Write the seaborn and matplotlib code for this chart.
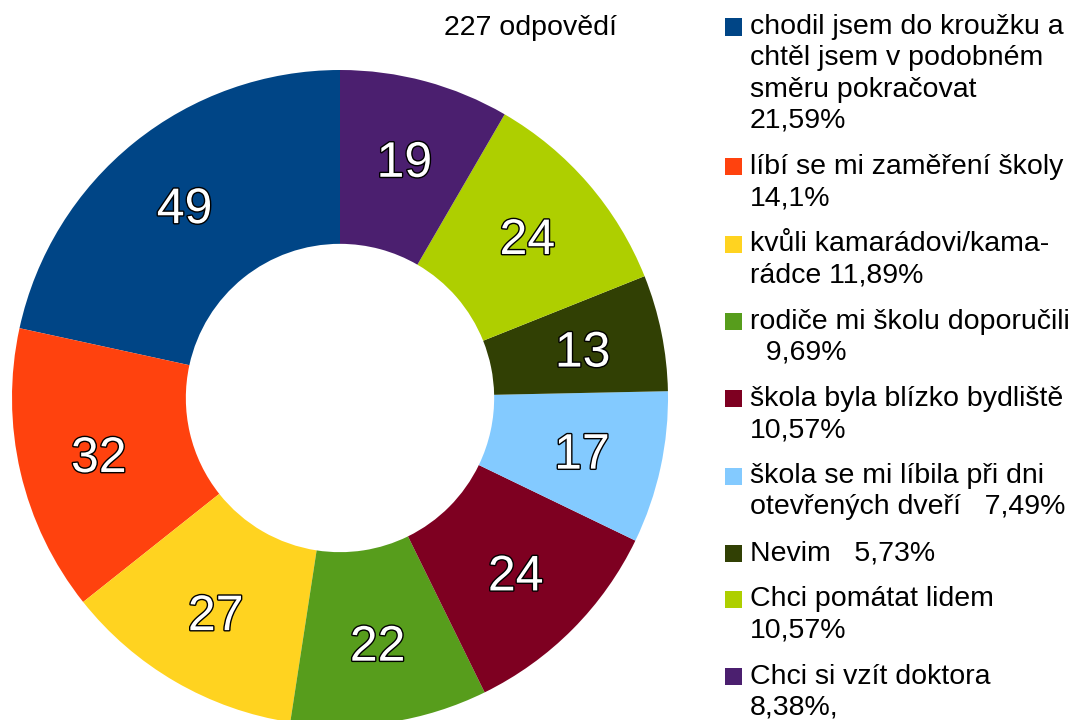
import seaborn as sns
import matplotlib
matplotlib.use("Agg")
from matplotlib import pyplot as plt
from matplotlib import patheffects as pe
from matplotlib.patches import Rectangle

''' Data '''

counts = [49, 32, 27, 22, 24, 17, 13, 24, 19]
colors = ["#004586", "#ff420e", "#ffd320", "#579d1c", "#7e0021",
          "#83caff", "#314004", "#aecf00", "#4b1f6f"]
legend_labels = [
    "chodil jsem do kroužku a\nchtěl jsem v podobném\nsměru pokračovat\n21,59%",
    "líbí se mi zaměření školy\n14,1%",
    "kvůli kamarádovi/kama-\nrádce 11,89%",
    "rodiče mi školu doporučili\n  9,69%",
    "škola byla blízko bydliště\n10,57%",
    "škola se mi líbila při dni\notevřených dveří   7,49%",
    "Nevim   5,73%",
    "Chci pomátat lidem\n10,57%",
    "Chci si vzít doktora\n8,38%,",
]
title = "227 odpovědí"

''' Style '''

sns.set_style("white")
plt.rcParams['font.family'] = ['Liberation Sans', 'DejaVu Sans']

W, H = 1072, 720
fig = plt.figure(figsize = (W / 100, H / 100), dpi = 100)

def fx(px) : return px / W
def fy(py) : return 1 - py / H

''' Donut '''

cx, cy, r = 340, 398, 328
ax = fig.add_axes([fx(cx - r), fy(cy + r), 2 * r / W, 2 * r / H])
total = sum(counts)
wedges, texts, autotexts = ax.pie(
    counts, colors = colors, startangle = 90, counterclock = True,
    radius = 1, wedgeprops = dict(width = 0.53, linewidth = 0),
    autopct = lambda p : f"{round(p * total / 100)}", pctdistance = 0.755,
    textprops = dict(color = "white", fontsize = 36))
for t in autotexts :
    x0, y0 = t.get_position()
    t.set_y(y0 - 0.015)
    t.set_path_effects([pe.withStroke(linewidth = 2, foreground = "black")])
ax.set_xlim(-1, 1)
ax.set_ylim(-1, 1)
ax.set_aspect("equal")
ax.axis("off")

fig.text(fx(530), fy(28), title, ha = "center", va = "center", fontsize = 20.5, color = "black")

''' Legend (drawn by hand so the square sits at the first line) '''

line_h, gap = 31.3, 14.7
y = 27
for lab, col in zip(legend_labels, colors) :
    lines = lab.split("\n")
    fig.patches.append(Rectangle((fx(725), fy(y + 8.5)), 17 / W, 17 / H,
                                 transform = fig.transFigure, facecolor = col,
                                 edgecolor = "none"))
    for k, ln in enumerate(lines) :
        fig.text(fx(750), fy(y + k * line_h), ln, ha = "left", va = "center",
                 fontsize = 20.5, color = "black")
    y += len(lines) * line_h + gap

fig.savefig("out.png", dpi = 100)
